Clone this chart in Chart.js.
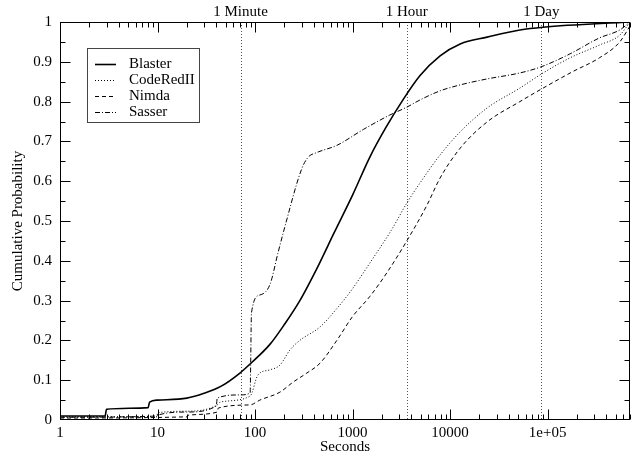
<!DOCTYPE html>
<html>
<head>
<meta charset="utf-8">
<script src="https://cdn.jsdelivr.net/npm/chart.js@4.4.1/dist/chart.umd.min.js"></script>
<style>
  html, body { margin: 0; padding: 0; background: #fff; }
  #cdf { display: block; }
</style>
</head>
<body>
<canvas id="cdf" width="636" height="457"></canvas>
<script>
// Series (seconds, cumulative probability)
const blasterX = [1, 2.9, 3, 8, 8.3, 10, 20, 30, 45, 70, 93, 142, 200, 288, 450, 646, 1000, 1500, 2200, 3300, 4900, 7900, 12700, 24000, 52000, 90000, 700000];
const blasterY = [0.01, 0.01, 0.027, 0.031, 0.045, 0.05, 0.055, 0.067, 0.085, 0.118, 0.145, 0.19, 0.24, 0.30, 0.39, 0.47, 0.565, 0.66, 0.735, 0.805, 0.865, 0.915, 0.945, 0.962, 0.98, 0.987, 1.0];

const codeRedX = [1, 9.9, 10, 20, 41, 44, 89, 107, 142, 180, 228, 288, 465, 690, 1000, 1500, 2500, 3600, 4900, 7900, 12700, 24000, 52000, 90000, 170000, 340000, 550000, 700000];
const codeRedY = [0.008, 0.008, 0.018, 0.022, 0.038, 0.045, 0.06, 0.113, 0.126, 0.138, 0.176, 0.2, 0.234, 0.28, 0.33, 0.394, 0.477, 0.545, 0.595, 0.666, 0.724, 0.784, 0.834, 0.872, 0.91, 0.942, 0.967, 1.0];

const nimdaX = [1, 20, 20.5, 41, 42, 89, 112, 180, 245, 340, 465, 690, 1000, 1500, 2250, 3600, 5800, 7900, 12700, 24000, 52000, 90000, 180000, 340000, 550000, 700000];
const nimdaY = [0.005, 0.008, 0.012, 0.02, 0.03, 0.038, 0.05, 0.07, 0.095, 0.118, 0.143, 0.2, 0.26, 0.31, 0.37, 0.45, 0.54, 0.608, 0.683, 0.749, 0.8, 0.834, 0.875, 0.91, 0.95, 0.99];

const sasserX = [1, 9.9, 10, 20, 40, 41, 70, 89, 92, 112, 142, 172, 202, 300, 350, 430, 690, 1290, 2400, 3600, 4900, 7900, 12700, 24000, 52000, 85000, 170000, 340000, 550000, 700000];
const sasserY = [0.007, 0.01, 0.012, 0.02, 0.035, 0.055, 0.063, 0.068, 0.27, 0.314, 0.34, 0.42, 0.485, 0.63, 0.66, 0.672, 0.69, 0.73, 0.766, 0.786, 0.804, 0.827, 0.842, 0.857, 0.872, 0.887, 0.92, 0.96, 0.98, 1.0];

// Axis ticks
const xTickValues = [1, 10, 100, 1000, 10000, 100000];
const xTickLabels = ['1', '10', '100', '1000', '10000', '1e+05'];
const yTickValues = [0, 0.1, 0.2, 0.3, 0.4, 0.5, 0.6, 0.7, 0.8, 0.9, 1];
const yTickLabels = ['0', '0.1', '0.2', '0.3', '0.4', '0.5', '0.6', '0.7', '0.8', '0.9', '1'];

// Reference lines (the 1 minute line sits at ~71 s in the picture)
const refValues = [71, 3600, 86400];
const refLabels = ['1 Minute', '1 Hour', '1 Day'];

const FONT = '"Liberation Serif", "Times New Roman", serif';

function toPoints(xs, ys) {
  return xs.map((x, i) => ({ x: x, y: ys[i] }));
}

const series = [
  { label: 'Blaster', x: blasterX, y: blasterY, dash: [], width: 1.6 },
  { label: 'CodeRedII', x: codeRedX, y: codeRedY, dash: [1, 2], width: 1 },
  { label: 'Nimda', x: nimdaX, y: nimdaY, dash: [4, 3], width: 1 },
  { label: 'Sasser', x: sasserX, y: sasserY, dash: [5, 2, 1, 2], width: 1 }
];

// Reference lines behind the curves
const refLinePlugin = {
  id: 'refLines',
  beforeDatasetsDraw(chart) {
    const ctx = chart.ctx;
    const area = chart.chartArea;
    const xs = chart.scales.x;
    ctx.save();
    ctx.strokeStyle = '#555';
    ctx.lineWidth = 1;
    ctx.setLineDash([1, 2]);
    refValues.forEach(v => {
      const px = Math.round(xs.getPixelForValue(v)) + 0.5;
      ctx.beginPath();
      ctx.moveTo(px, area.top);
      ctx.lineTo(px, area.bottom);
      ctx.stroke();
    });
    ctx.restore();
  }
};

// Frame, inward ticks, top labels and legend box
const framePlugin = {
  id: 'frame',
  afterDraw(chart) {
    const ctx = chart.ctx;
    const area = chart.chartArea;
    const xs = chart.scales.x;
    const ys = chart.scales.y;
    const L = Math.round(area.left) + 0.5;
    const R = Math.round(area.right) - 0.5;
    const T = Math.round(area.top) + 0.5;
    const B = Math.round(area.bottom) - 0.5;

    ctx.save();
    ctx.strokeStyle = '#000';
    ctx.lineWidth = 1;
    ctx.setLineDash([]);
    ctx.strokeRect(L, T, R - L, B - T);

    // x ticks, bottom and top
    ctx.beginPath();
    for (let d = 1; d <= xs.max; d *= 10) {
      for (let m = 1; m <= 9; m++) {
        const v = d * m;
        if (v > xs.max) break;
        const px = Math.round(xs.getPixelForValue(v)) + 0.5;
        const len = m === 1 ? 10 : 5;
        ctx.moveTo(px, B); ctx.lineTo(px, B - len);
        ctx.moveTo(px, T); ctx.lineTo(px, T + len);
      }
    }
    // y ticks, left and right
    for (let i = 1; i < 20; i++) {
      const py = Math.round(ys.getPixelForValue(i * 0.05)) + 0.5;
      const len = i % 2 === 0 ? 10 : 5;
      ctx.moveTo(L, py); ctx.lineTo(L + len, py);
      ctx.moveTo(R, py); ctx.lineTo(R - len, py);
    }
    ctx.stroke();

    // labels over the reference lines
    ctx.fillStyle = '#000';
    ctx.font = '15px ' + FONT;
    ctx.textAlign = 'center';
    ctx.textBaseline = 'middle';
    refValues.forEach((v, i) => {
      ctx.fillText(refLabels[i], xs.getPixelForValue(v), 12);
    });

    // legend
    const bx = 87.5, by = 48.5, bw = 112, bh = 74;
    ctx.fillStyle = '#fff';
    ctx.fillRect(bx, by, bw, bh);
    ctx.strokeStyle = '#444';
    ctx.strokeRect(bx, by, bw, bh);
    ctx.textAlign = 'left';
    series.forEach((s, i) => {
      const ry = 64.5 + i * 16;
      ctx.strokeStyle = '#000';
      ctx.lineWidth = s.width;
      ctx.setLineDash(s.dash);
      ctx.beginPath();
      ctx.moveTo(95, ry);
      ctx.lineTo(116, ry);
      ctx.stroke();
      ctx.fillStyle = '#000';
      ctx.fillText(s.label, 129, ry);
    });
    ctx.restore();
  }
};

const config = {
  type: 'scatter',
  data: {
    datasets: series.map(s => ({
      label: s.label,
      data: toPoints(s.x, s.y),
      showLine: true,
      borderColor: '#000',
      backgroundColor: '#000',
      borderWidth: s.width,
      borderDash: s.dash,
      pointRadius: 0,
      cubicInterpolationMode: 'monotone'
    }))
  },
  options: {
    responsive: false,
    animation: false,
    layout: { padding: { top: 22, right: 6, left: 0, bottom: 0 } },
    plugins: {
      legend: { display: false },
      tooltip: { enabled: false }
    },
    scales: {
      x: {
        type: 'logarithmic',
        position: 'bottom',
        min: 1,
        max: 700000,
        grid: { display: false, drawTicks: false },
        border: { display: false },
        afterBuildTicks: scale => {
          scale.ticks = xTickValues.map(v => ({ value: v }));
        },
        afterFit: scale => { scale.height = 37; },
        ticks: {
          autoSkip: false,
          maxRotation: 0,
          padding: 4,
          color: '#000',
          font: { family: FONT, size: 15 },
          callback: function (value) {
            const i = xTickValues.indexOf(value);
            return i >= 0 ? xTickLabels[i] : '';
          }
        },
        title: {
          display: true,
          text: 'Seconds',
          color: '#000',
          font: { family: FONT, size: 15 },
          padding: { top: 0, bottom: 1 }
        }
      },
      y: {
        min: 0,
        max: 1,
        grid: { display: false, drawTicks: false },
        border: { display: false },
        afterBuildTicks: scale => {
          scale.ticks = yTickValues.map(v => ({ value: v }));
        },
        afterFit: scale => { scale.width = 60; },
        ticks: {
          padding: 8,
          color: '#000',
          font: { family: FONT, size: 15 },
          callback: function (value, index) {
            return yTickLabels[index];
          }
        },
        title: {
          display: true,
          text: 'Cumulative Probability',
          color: '#000',
          font: { family: FONT, size: 15 },
          padding: { top: 9, bottom: 0 }
        }
      }
    }
  },
  plugins: [refLinePlugin, framePlugin]
};

new Chart(document.getElementById('cdf').getContext('2d'), config);
</script>
</body>
</html>
